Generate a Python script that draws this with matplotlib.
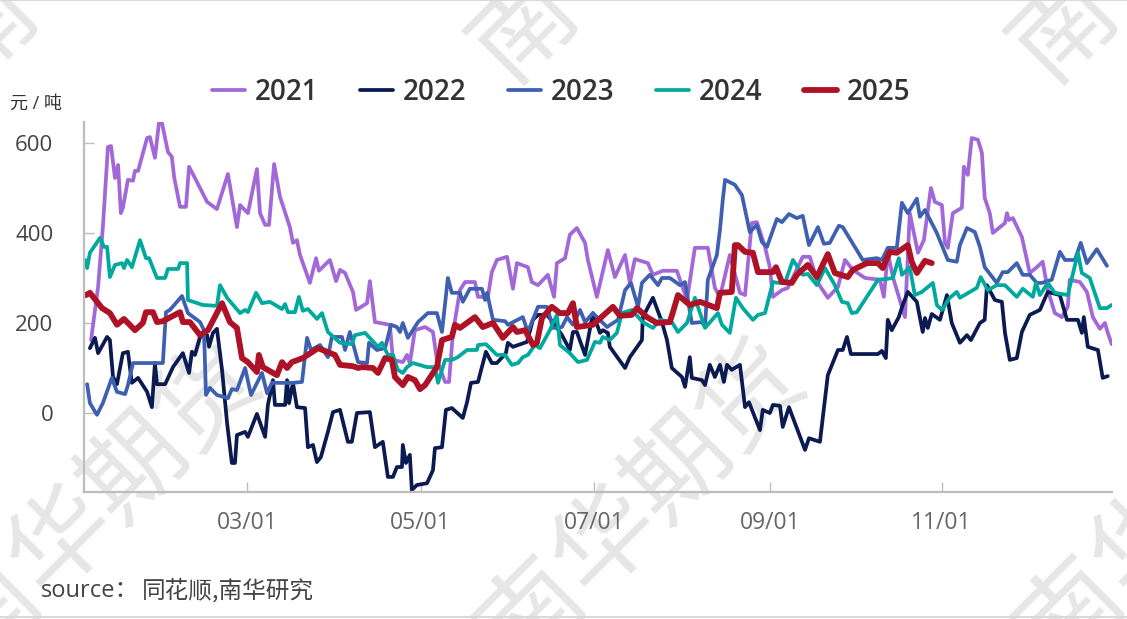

import matplotlib
matplotlib.use("Agg")
import matplotlib.pyplot as plt

plt.rcParams["font.family"] = ["Open Sans", "Noto Sans CJK SC", "DejaVu Sans"]

# x is the day of the year, y is yuan per ton.
days_2021 = [2.5, 5, 6.7, 8.5, 9.6, 11, 12.1, 13.1, 13.8, 15.6, 17.4, 18.1, 19.2, 22.4, 23.4, 25.2, 26.6, 27.7, 29.8, 31.2, 32, 34.1, 36.2, 37.3, 39.4, 43.7, 47.2, 51.1, 54.3, 55.4, 58.2, 61.4, 62.5, 64.3, 65.7, 67.5, 69.6, 73.1, 74.2, 75.6, 76.7, 80.2, 82.4, 83.4, 87.3, 89.5, 90.9, 92.7, 95.5, 96.6, 100.5, 101.5, 103.3, 108.6, 109.7, 113.2, 114.7, 115.7, 117.5, 121.1, 123.9, 125.3, 128.2, 129.6, 131, 133.5, 135.3, 138.8, 139.9, 143.4, 144.8, 146.6, 150.2, 152.3, 153.7, 157.6, 159, 161.2, 164.7, 166.9, 167.9, 170.8, 172.5, 175, 177.9, 178.9, 182.1, 186, 188.5, 192.1, 193.8, 195.6, 200.2, 202, 205.5, 210.5, 214.1, 216.9, 221.5, 224, 225.8, 229.3, 232.9, 234.7, 237.1, 238.9, 241.8, 243.5, 244.6, 247.8, 249.9, 255.2, 257.7, 260.6, 264.1, 267.7, 270.2, 273, 277.3, 282.6, 284, 285.4, 287.2, 288.6, 291.5, 293.2, 296.1, 298.2, 300.7, 302.1, 304.6, 305.7, 306.7, 308.5, 311.7, 312.4, 313.8, 315.2, 317.4, 318.8, 319.8, 321.6, 322.7, 327, 327.7, 328.4, 329.8, 333, 335.8, 338.3, 340.4, 342.2, 344.7, 347.2, 349.3, 350, 353.6, 356.1, 358.2, 360.7, 362.5, 363.5, 364.9]
values_2021 = [162, 280, 413, 591, 593, 522, 551, 444, 456, 518, 516, 538, 538, 611, 613, 567, 644, 644, 580, 569, 524, 458, 458, 547, 522, 469, 453, 531, 413, 462, 444, 542, 444, 418, 418, 553, 480, 413, 378, 384, 351, 289, 344, 316, 340, 293, 318, 311, 269, 229, 244, 293, 202, 196, 118, 113, 129, 111, 184, 191, 180, 118, 69, 69, 178, 273, 291, 291, 258, 258, 313, 340, 347, 276, 333, 324, 291, 284, 307, 258, 333, 344, 396, 411, 378, 340, 258, 362, 302, 351, 289, 342, 333, 307, 316, 316, 251, 367, 367, 278, 258, 351, 267, 262, 422, 424, 369, 324, 258, 273, 278, 347, 347, 289, 256, 280, 340, 318, 300, 296, 258, 356, 302, 273, 213, 444, 356, 384, 500, 469, 462, 378, 367, 444, 456, 547, 529, 611, 607, 578, 478, 444, 400, 422, 444, 429, 433, 391, 311, 324, 336, 273, 222, 213, 236, 296, 291, 269, 213, 187, 200, 178, 153]

days_2022 = [2.1, 3.9, 5, 8.2, 9.2, 10.3, 11.7, 13.8, 15.6, 17, 19.2, 22.4, 24.1, 25.2, 25.9, 28.8, 31.6, 35.1, 37.3, 38.3, 39.4, 41.2, 43.7, 44.4, 45.8, 47.2, 49, 50.8, 52.5, 53.6, 54.3, 57.2, 58.2, 61.4, 64.3, 65.3, 67.1, 67.8, 71.4, 72.1, 72.8, 74.2, 75.6, 78.5, 79.5, 81.3, 82.7, 84.1, 86.6, 88.4, 90.9, 93.7, 95.1, 96.9, 101.5, 103.3, 106.1, 107.9, 109.7, 111.1, 112.9, 113.2, 114.3, 115.7, 116.4, 118.2, 121.8, 123.9, 124.6, 127.1, 128.5, 130.6, 134.5, 136, 137.4, 139.9, 142.7, 144.8, 146.6, 149.8, 150.5, 152.3, 157.3, 159.4, 161.2, 164.4, 167.2, 169.7, 172.5, 173.6, 175, 177.9, 180.7, 183.2, 184.2, 186, 186.7, 192.1, 193.8, 198.1, 198.4, 202, 205.2, 207, 208.7, 212.3, 213.4, 215.1, 215.8, 219.4, 220.5, 222.2, 224, 225.8, 227.2, 228.3, 230, 232.9, 234.7, 236.1, 240, 241, 243.5, 244.6, 247.1, 248.1, 250.3, 256, 257.4, 261.3, 264.1, 267.7, 269.4, 270.9, 272.3, 281.9, 283.3, 284.7, 285.4, 286.8, 289.3, 290.7, 292.5, 295.7, 297.8, 298.6, 299.6, 301, 303.9, 306.4, 308.1, 311, 313.5, 314.9, 318.1, 319.8, 320.6, 323.4, 325.9, 327, 328.7, 331.2, 333, 335.8, 339.4, 342.2, 346.5, 349, 352.9, 354.3, 355, 356.4, 360, 361.7, 363.5]
values_2022 = [144, 167, 133, 169, 162, 80, 64, 133, 136, 67, 78, 47, 13, 111, 64, 64, 102, 133, 89, 136, 129, 169, 173, 147, 178, 187, 96, -22, -111, -111, -49, -42, -53, -2, -53, 18, 73, 18, 18, 73, 22, 67, 13, 11, -76, -71, -109, -98, -42, 2, 7, -64, -64, 0, 2, -76, -64, -142, -142, -120, -120, -71, -111, -93, -171, -160, -156, -127, -78, -76, 7, 11, -11, 24, 67, 69, 136, 111, 111, 133, 156, 147, 158, 207, 218, 218, 196, 173, 140, 180, 180, 129, 222, 178, 184, 178, 147, 100, 124, 162, 213, 256, 202, 162, 100, 80, 58, 124, 78, 73, 62, 107, 80, 107, 69, 107, 96, 107, 13, 24, -38, 7, 0, 18, 16, -31, 13, -82, -56, -64, 84, 140, 140, 169, 131, 131, 138, 122, 207, 184, 213, 240, 269, 247, 180, 211, 189, 220, 207, 262, 200, 156, 173, 162, 200, 207, 284, 251, 247, 178, 118, 122, 180, 218, 229, 269, 262, 207, 207, 178, 213, 147, 140, 78, 82]

days_2023 = [1.1, 2.1, 4.6, 6.7, 9.9, 11.7, 14.6, 15.6, 17.4, 28, 29.1, 30.5, 34.8, 36.9, 41.2, 42.6, 43.3, 44.7, 47.2, 51.1, 52.5, 54.3, 57.2, 59.3, 63.2, 65, 66.7, 74.2, 77.4, 79.2, 80.6, 83.8, 86.6, 88, 91.6, 92.7, 94.4, 97.3, 100.5, 101.2, 104, 106.9, 109, 111.1, 112.2, 113.2, 115, 118.6, 122.1, 125.3, 127.1, 129.2, 130.6, 133.5, 134.5, 137, 141.3, 142.4, 143.1, 145.2, 149.5, 150.5, 155.8, 157.6, 161.2, 164.4, 166.5, 169.7, 171.5, 173.6, 176.1, 177.9, 180.7, 185.7, 189.6, 192.1, 194.2, 196.7, 198.1, 200.9, 203.8, 205.2, 208, 211.6, 213.4, 215.8, 219.4, 220.5, 221.5, 224.7, 225.8, 226.8, 227.6, 231.1, 233.6, 236.4, 238.9, 240.7, 242.5, 246, 247.8, 250.3, 253.1, 255.2, 257.4, 260.6, 262.7, 264.8, 268, 269.4, 276.5, 281.5, 283.3, 285.4, 288.6, 290.4, 292.5, 295.7, 296.8, 298.6, 302.8, 306.7, 309.9, 311, 313.5, 316.3, 318.1, 319.8, 324.1, 326.2, 328, 331.2, 333.3, 335.8, 338.3, 340.1, 343.6, 346.5, 348.3, 351.8, 353.9, 356.1, 359.6, 363.2]
values_2023 = [64, 22, -4, 22, 78, 47, 42, 62, 111, 111, 224, 229, 260, 222, 202, 184, 40, 56, 40, 33, 53, 51, 100, 40, 89, 44, 67, 67, 69, 167, 140, 151, 124, 169, 169, 140, 180, 113, 111, 156, 140, 144, 196, 191, 180, 200, 167, 202, 222, 222, 180, 300, 267, 267, 247, 276, 276, 251, 267, 207, 204, 196, 213, 180, 236, 236, 189, 191, 213, 196, 229, 202, 222, 191, 207, 273, 289, 236, 289, 307, 284, 300, 300, 284, 291, 200, 202, 191, 296, 351, 407, 473, 518, 507, 484, 402, 418, 380, 369, 431, 424, 442, 433, 438, 373, 413, 376, 378, 416, 413, 340, 344, 340, 367, 367, 467, 444, 476, 436, 451, 400, 340, 336, 373, 411, 402, 369, 324, 289, 313, 313, 333, 307, 307, 289, 289, 296, 358, 340, 340, 378, 333, 364, 327]

days_2024 = [0.4, 1.1, 2.1, 5.7, 7.1, 8.2, 9.2, 11, 13.5, 14.2, 15.3, 17, 19.9, 22, 23.1, 25.9, 28.8, 29.8, 33.4, 34.1, 36.6, 36.9, 42.2, 47.2, 48.3, 50.8, 55.4, 57.2, 58.2, 61.1, 63.2, 66, 70.3, 71.4, 72.4, 74.9, 76.3, 77.7, 79.5, 82.7, 84.5, 86.6, 90.9, 95.1, 96.2, 99.8, 104.4, 105.8, 107.9, 109.7, 111.4, 113.2, 114.7, 116.8, 121.8, 124.6, 125.7, 128.2, 130.6, 132.7, 136, 139.5, 139.9, 142.7, 146.6, 149.5, 151.9, 154.1, 155.8, 157.6, 160.1, 161.9, 165.4, 167.9, 169, 172.5, 175.4, 178.6, 181.4, 183.2, 184.2, 186.7, 189.2, 191, 194.5, 198.4, 202, 204.5, 208.7, 210.9, 214.1, 216.9, 220.5, 225.1, 226.5, 229.3, 231.5, 233.9, 237.5, 239.3, 241.8, 244.6, 246.4, 248.9, 251.7, 255.2, 257, 260.2, 263.1, 266.6, 269.1, 271.2, 272.6, 274.4, 281.9, 285.1, 287.2, 289.3, 290.4, 293.2, 295, 297.5, 301.4, 302.8, 304.6, 307.4, 309.9, 311, 317, 318.4, 320.9, 324.1, 327, 331.2, 333.3, 336.9, 338, 339.4, 342.2, 344.7, 349.3, 352.9, 354.3, 357.1, 360.7, 363.2, 364.9]
values_2024 = [340, 322, 356, 389, 369, 369, 302, 329, 333, 322, 340, 324, 384, 344, 344, 300, 300, 320, 320, 333, 333, 251, 240, 238, 284, 256, 222, 229, 224, 267, 244, 247, 231, 242, 224, 224, 258, 227, 231, 209, 222, 180, 156, 153, 173, 178, 147, 156, 129, 129, 96, 89, 102, 111, 102, 102, 67, 118, 118, 124, 140, 140, 151, 153, 129, 129, 107, 111, 124, 129, 151, 144, 184, 218, 151, 133, 113, 118, 158, 156, 169, 162, 178, 222, 229, 202, 189, 207, 202, 180, 200, 256, 189, 222, 196, 178, 256, 233, 207, 218, 222, 291, 289, 289, 340, 307, 309, 284, 322, 284, 247, 244, 222, 224, 296, 298, 300, 344, 307, 324, 262, 269, 289, 240, 229, 256, 269, 256, 278, 302, 273, 284, 284, 258, 276, 258, 289, 262, 289, 267, 262, 356, 311, 300, 233, 233, 240]

days_2025 = [0.7, 2.1, 6.4, 9.2, 11.7, 14.2, 18.1, 20.9, 22, 24.5, 25.9, 28, 34.1, 35.1, 37.6, 41.2, 44, 49, 51.8, 54.3, 56.1, 58.2, 61.4, 62.1, 63.5, 68.5, 70.3, 72.1, 73.8, 77.7, 83.1, 89.1, 90.9, 95.5, 97.3, 98.7, 102.6, 104.4, 106.9, 109.3, 110.4, 113.2, 115, 117.5, 119.3, 121.1, 125.3, 127.1, 130.6, 131.7, 133.5, 138.8, 141.6, 145.2, 148.7, 152.3, 153.7, 156.6, 159.4, 160.8, 162.6, 166.1, 169, 171.8, 173.6, 175, 180.7, 187.8, 190.3, 194.5, 196.3, 199.9, 203.4, 208, 209.1, 210.9, 215.1, 218.7, 224.7, 225.8, 230, 231.1, 232.2, 234.7, 237.5, 239.3, 244.6, 245.7, 247.8, 251.3, 253.1, 257, 260.2, 264.1, 266.6, 271.2, 273, 278, 281.9, 283.6, 286.1, 288.6, 292.5, 293.9, 295.7, 298.6, 301]
values_2025 = [262, 267, 233, 222, 196, 209, 184, 200, 224, 224, 202, 204, 224, 202, 202, 173, 184, 244, 202, 189, 122, 113, 91, 129, 102, 84, 113, 100, 113, 122, 144, 129, 107, 104, 100, 102, 100, 89, 122, 118, 80, 62, 80, 73, 53, 62, 102, 162, 169, 196, 189, 213, 191, 200, 167, 191, 180, 184, 151, 156, 211, 236, 222, 222, 244, 191, 196, 236, 216, 218, 233, 213, 200, 202, 224, 262, 240, 247, 233, 267, 269, 373, 373, 358, 356, 313, 313, 324, 291, 289, 307, 329, 302, 353, 311, 302, 318, 333, 333, 322, 358, 356, 373, 336, 311, 338, 333]

tick_days = [58, 119.5, 181, 243.5, 304.5]
tick_labels = ["03/01", "05/01", "07/01", "09/01", "11/01"]
y_ticks = [0, 200, 400, 600]

W, H = 1127, 619
fig = plt.figure(figsize=(W / 100, H / 100), dpi=100)


def watermark(text, x_px, y_px):
    """One diagonal run of watermark glyphs, starting at a pixel position."""
    for i, ch in enumerate(text):
        fig.text((x_px + i * 73) / W, 1 - (y_px - i * 72) / H, ch,
                 fontsize=74, color="#e6e6e6", rotation=45, weight="medium",
                 ha="center", va="center", zorder=0, family=["Noto Sans CJK SC"])


for x_px in (-15, 525, 1065):
    watermark("南", x_px, 27)
watermark("南华期货", -11, 613)
watermark("南华期货", 533, 613)
watermark("南华", 1072, 613)

ax = fig.add_axes([84 / W, 1 - 492 / H, 1028 / W, 370 / H], zorder=2)
ax.patch.set_alpha(0)
ax.set_xlim(0, 365)
ax.set_ylim(-175.5, 646.5)

line_kw = {"solid_joinstyle": "round", "solid_capstyle": "round"}
ax.plot(days_2021, values_2021, color="#a268d8", lw=2.7, label="2021", **line_kw)
ax.plot(days_2022, values_2022, color="#0b1a50", lw=2.7, label="2022", **line_kw)
ax.plot(days_2023, values_2023, color="#3f60b0", lw=2.7, label="2023", **line_kw)
ax.plot(days_2024, values_2024, color="#00a99d", lw=2.7, label="2024", **line_kw)
ax.plot(days_2025, values_2025, color="#ae1226", lw=4.2, label="2025", **line_kw)

for side in ("top", "right"):
    ax.spines[side].set_visible(False)
for side in ("left", "bottom"):
    ax.spines[side].set_color("#bdbdbd")
    ax.spines[side].set_linewidth(1.6)

ax.set_yticks(y_ticks)
ax.set_xticks(tick_days)
ax.set_xticklabels(tick_labels)
ax.tick_params(axis="y", direction="in", length=7, width=1, color="#bdbdbd",
               labelsize=16, labelcolor="#444444", pad=22)
ax.tick_params(axis="x", direction="in", length=7, width=1, color="#bdbdbd",
               labelsize=16.5, labelcolor="#666666", pad=14)

ax.legend(loc="center", bbox_to_anchor=(561 / W, 1 - 92 / H), bbox_transform=fig.transFigure,
          ncols=5, frameon=False, handlelength=1.19, handletextpad=0.36, columnspacing=1.49,
          prop={"size": 20, "weight": "semibold"}, labelcolor="#333333")

fig.text(10 / W, 1 - 104 / H, "元 / 吨", fontsize=13, color="#333333", va="center")
fig.text(41 / W, 1 - 591 / H, "source：", fontsize=17, color="#444444", va="center")
fig.text(142 / W, 1 - 590 / H, "同花顺,南华研究", fontsize=17, color="#444444", va="center",
         family=["Noto Sans CJK SC"], style="italic")

# Thin page border at the top and bottom edge.
fig.add_artist(plt.Line2D([0, 1], [0.9995, 0.9995], color="#d9d9d9", lw=1.5))
fig.add_artist(plt.Line2D([0, 1], [0.003, 0.003], color="#d9d9d9", lw=1.5))

fig.savefig("out.png", dpi=100)
